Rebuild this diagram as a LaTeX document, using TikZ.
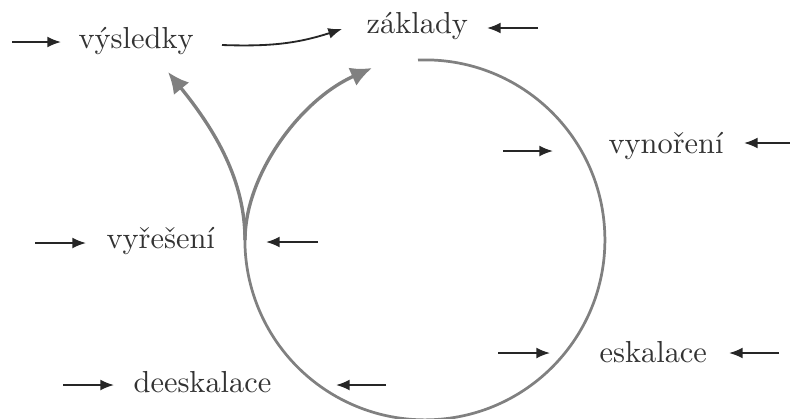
\documentclass[tikz,border=0pt]{standalone}
\usetikzlibrary{arrows.meta}
\begin{document}
\begin{tikzpicture}[x=0.329pt,y=0.329pt,
  lbl/.style={anchor=base west,inner sep=0pt,font=\fontsize{10pt}{12pt}\selectfont,text=black!80},
  blk/.style={line width=0.6pt,black!85,-{Latex[length=4.5pt,width=3.6pt]}},
  cyc/.style={line width=0.9pt,black!50},
  garr/.style={line width=1.1pt,black!50,-{Latex[length=7pt,width=6.5pt]}}]
\useasboundingbox (0,0) rectangle (790,-418);
% labels
\node[lbl] (vys) at (78,-48) {výsledky};
\node[lbl] (zak) at (366,-33) {základy};
\node[lbl] (vyn) at (608,-153) {vynoření};
\node[lbl] (vyr) at (106,-248) {vyřešení};
\node[lbl] (dee) at (133,-392) {deeskalace};
\node[lbl] (esk) at (599,-362) {eskalace};
% cycle
\coordinate (top) at (418,-60);
\coordinate (split) at (245,-240);
\coordinate (tipZ) at (372,-68);
\coordinate (tipV) at (168,-72);
\draw[cyc] (top) arc[start angle=92.2,end angle=-180,radius=180];
\draw[garr] (split) .. controls (245,-175) and (300,-100) .. (tipZ);
\draw[garr] (split) .. controls (245,-180) and (215,-130) .. (tipV);
% výsledky -> základy
\coordinate (vz1) at (222,-45);
\coordinate (vz2) at (342,-29);
\draw[blk] (vz1) to[out=-2,in=198] (vz2);
% small arrows
\foreach \n/\ax/\bx/\yy in {a/12/61/-42, b/538/487/-28, c/503/553/-151, d/790/744/-143,
  e/35/86/-243, f/318/266/-242, g/63/114/-385, h/386/336/-385, i/498/550/-353, j/779/729/-353}{
  \coordinate (\n s) at (\ax,\yy);
  \coordinate (\n e) at (\bx,\yy);
  \draw[blk] (\n s) -- (\n e);
}
\end{tikzpicture}
\end{document}
